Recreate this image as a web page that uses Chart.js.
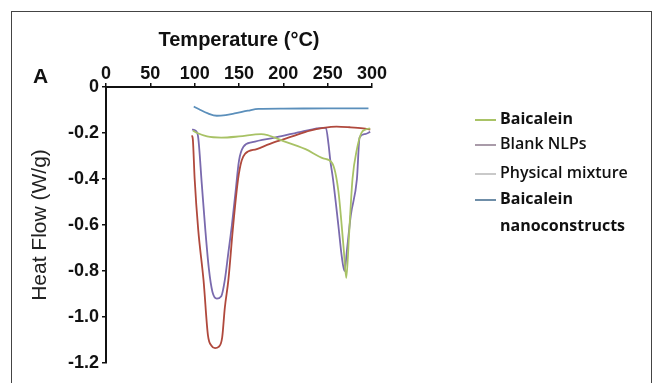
<!DOCTYPE html>
<html>
<head>
<meta charset="utf-8">
<script src="https://cdn.jsdelivr.net/npm/chart.js@4.4.1/dist/chart.umd.min.js"></script>
<style>
  html, body { margin: 0; padding: 0; background: #fff; }
  #wrap { position: relative; width: 661px; height: 383px; overflow: hidden; }
  #frame { position: absolute; left: 11px; top: 11px; width: 639px; height: 400px; border: 1px solid #444; }
  #panel { position: absolute; left: 33px; top: 64px; font: bold 21px "Liberation Sans", Arial, sans-serif; color: #111; }
  #legend { position: absolute; left: 475px; top: 0; font-family: "Open Sans", sans-serif; font-size: 16px; color: #111; }
  .item { position: absolute; left: 0; white-space: nowrap; line-height: 20px; }
  .item span.s { display: inline-block; width: 21px; height: 2px; vertical-align: middle; margin-right: 4px; }
  canvas { position: absolute; left: 0; top: 0; }
</style>
</head>
<body>
<div id="wrap">
  <div id="frame"></div>
  <canvas id="myChart" width="661" height="383"></canvas>
  <div id="panel">A</div>
  <div id="legend"></div>
</div>
<script>
// temperature (°C) and heat flow (W/g)
const blueT = [99, 105, 115, 125, 135, 145, 160, 172, 200, 250, 296];
const blueHF = [-0.085, -0.097, -0.115, -0.125, -0.122, -0.115, -0.103, -0.095, -0.094, -0.093, -0.093];

const greenT = [98, 103, 114, 130, 150, 175, 200, 225, 245, 255, 262, 268, 271, 274, 278, 283, 288, 293, 298];
const greenHF = [-0.19, -0.20, -0.215, -0.22, -0.215, -0.205, -0.235, -0.27, -0.31, -0.33, -0.45, -0.70, -0.83, -0.65, -0.40, -0.27, -0.20, -0.185, -0.18];

const purpleT = [97, 101, 104, 108, 112, 116, 120, 125, 130, 134, 138, 142, 146, 150, 155, 165, 190, 220, 245, 248, 251, 253, 256, 262, 266, 269, 272, 276, 283, 286, 292, 298];
const purpleHF = [-0.185, -0.19, -0.22, -0.42, -0.62, -0.79, -0.89, -0.92, -0.91, -0.84, -0.72, -0.60, -0.46, -0.32, -0.26, -0.24, -0.22, -0.195, -0.178, -0.178, -0.25, -0.32, -0.40, -0.60, -0.74, -0.80, -0.70, -0.56, -0.40, -0.22, -0.205, -0.195];

const redT = [97, 98, 100, 104, 110, 115, 119, 123, 127, 131, 134, 138, 143, 149, 153, 157, 170, 190, 210, 230, 245, 260, 275, 290, 298];
const redHF = [-0.21, -0.23, -0.40, -0.62, -0.84, -1.08, -1.125, -1.135, -1.13, -1.09, -0.96, -0.84, -0.62, -0.40, -0.32, -0.29, -0.27, -0.24, -0.215, -0.19, -0.178, -0.172, -0.175, -0.18, -0.185];

const xTicks = [0, 50, 100, 150, 200, 250, 300];
const yTicks = [0, -0.2, -0.4, -0.6, -0.8, -1.0, -1.2];

const legendNames = [["Baicalein"], ["Blank NLPs"], ["Physical mixture"], ["Baicalein", "nanoconstructs"]];
const legendColors = ["#a9c366", "#a99ba9", "#c9c9c9", "#6f8ea8"];
const legendWeights = [700, 600, 600, 700];
const legendTops = [108, 133, 162, 188];

function pts(t, v) { return t.map((x, i) => ({x: x, y: v[i]})); }

const tickFont = {family: "'Liberation Sans', Arial, sans-serif", size: 18, weight: 'bold'};

function line(label, t, v, color) {
  return {label: label, data: pts(t, v), borderColor: color, borderWidth: 1.8,
          pointRadius: 0, fill: false, cubicInterpolationMode: 'monotone'};
}

new Chart(document.getElementById('myChart'), {
  type: 'line',
  data: {
    datasets: [
      line('Baicalein', greenT, greenHF, '#a8c265'),
      line('Blank NLPs', redT, redHF, '#b0493d'),
      line('Physical mixture', purpleT, purpleHF, '#7a6aae'),
      line('Baicalein nanoconstructs', blueT, blueHF, '#5b8fbb')
    ]
  },
  options: {
    responsive: false,
    animation: false,
    layout: {padding: {left: 0, top: 0, right: 289, bottom: 20}},
    plugins: {legend: {display: false}, tooltip: {enabled: false}},
    scales: {
      x: {
        type: 'linear', position: 'top', min: 0, max: 300,
        afterBuildTicks: (s) => { s.ticks = xTicks.map(v => ({value: v})); },
        afterFit: (s) => { s.height = 87; },
        ticks: {font: tickFont, color: '#111', padding: -2, maxRotation: 0},
        grid: {drawOnChartArea: false, tickLength: 4, color: '#111', lineWidth: 1.5},
        border: {color: '#111', width: 2},
        title: {display: true, text: 'Temperature (°C)', color: '#111',
                font: {family: "'Liberation Sans', Arial, sans-serif", size: 20, weight: 'bold'},
                padding: {top: 28, bottom: 0}}
      },
      y: {
        type: 'linear', min: -1.2, max: 0,
        afterBuildTicks: (s) => { s.ticks = yTicks.map(v => ({value: v})); },
        afterFit: (s) => { s.width = 106; },
        ticks: {font: tickFont, color: '#111', padding: 3,
                callback: (v) => v === 0 ? '0' : v.toFixed(1)},
        grid: {drawOnChartArea: false, tickLength: 4, color: '#111', lineWidth: 1.5},
        border: {color: '#111', width: 2},
        title: {display: true, text: 'Heat Flow (W/g)', color: '#222',
                font: {family: "'Liberation Sans', Arial, sans-serif", size: 21},
                padding: {top: 28, bottom: 0}}
      }
    }
  }
});

// legend
const lg = document.getElementById('legend');
legendNames.forEach((lines, i) => {
  lines.forEach((txt, j) => {
    const d = document.createElement('div');
    d.className = 'item';
    d.style.top = (legendTops[i] + j * 27) + 'px';
    d.style.fontWeight = legendWeights[i];
    const s = document.createElement('span');
    s.className = 's';
    s.style.background = j === 0 ? legendColors[i] : 'transparent';
    d.appendChild(s);
    d.appendChild(document.createTextNode(txt));
    lg.appendChild(d);
  });
});
</script>
</body>
</html>
